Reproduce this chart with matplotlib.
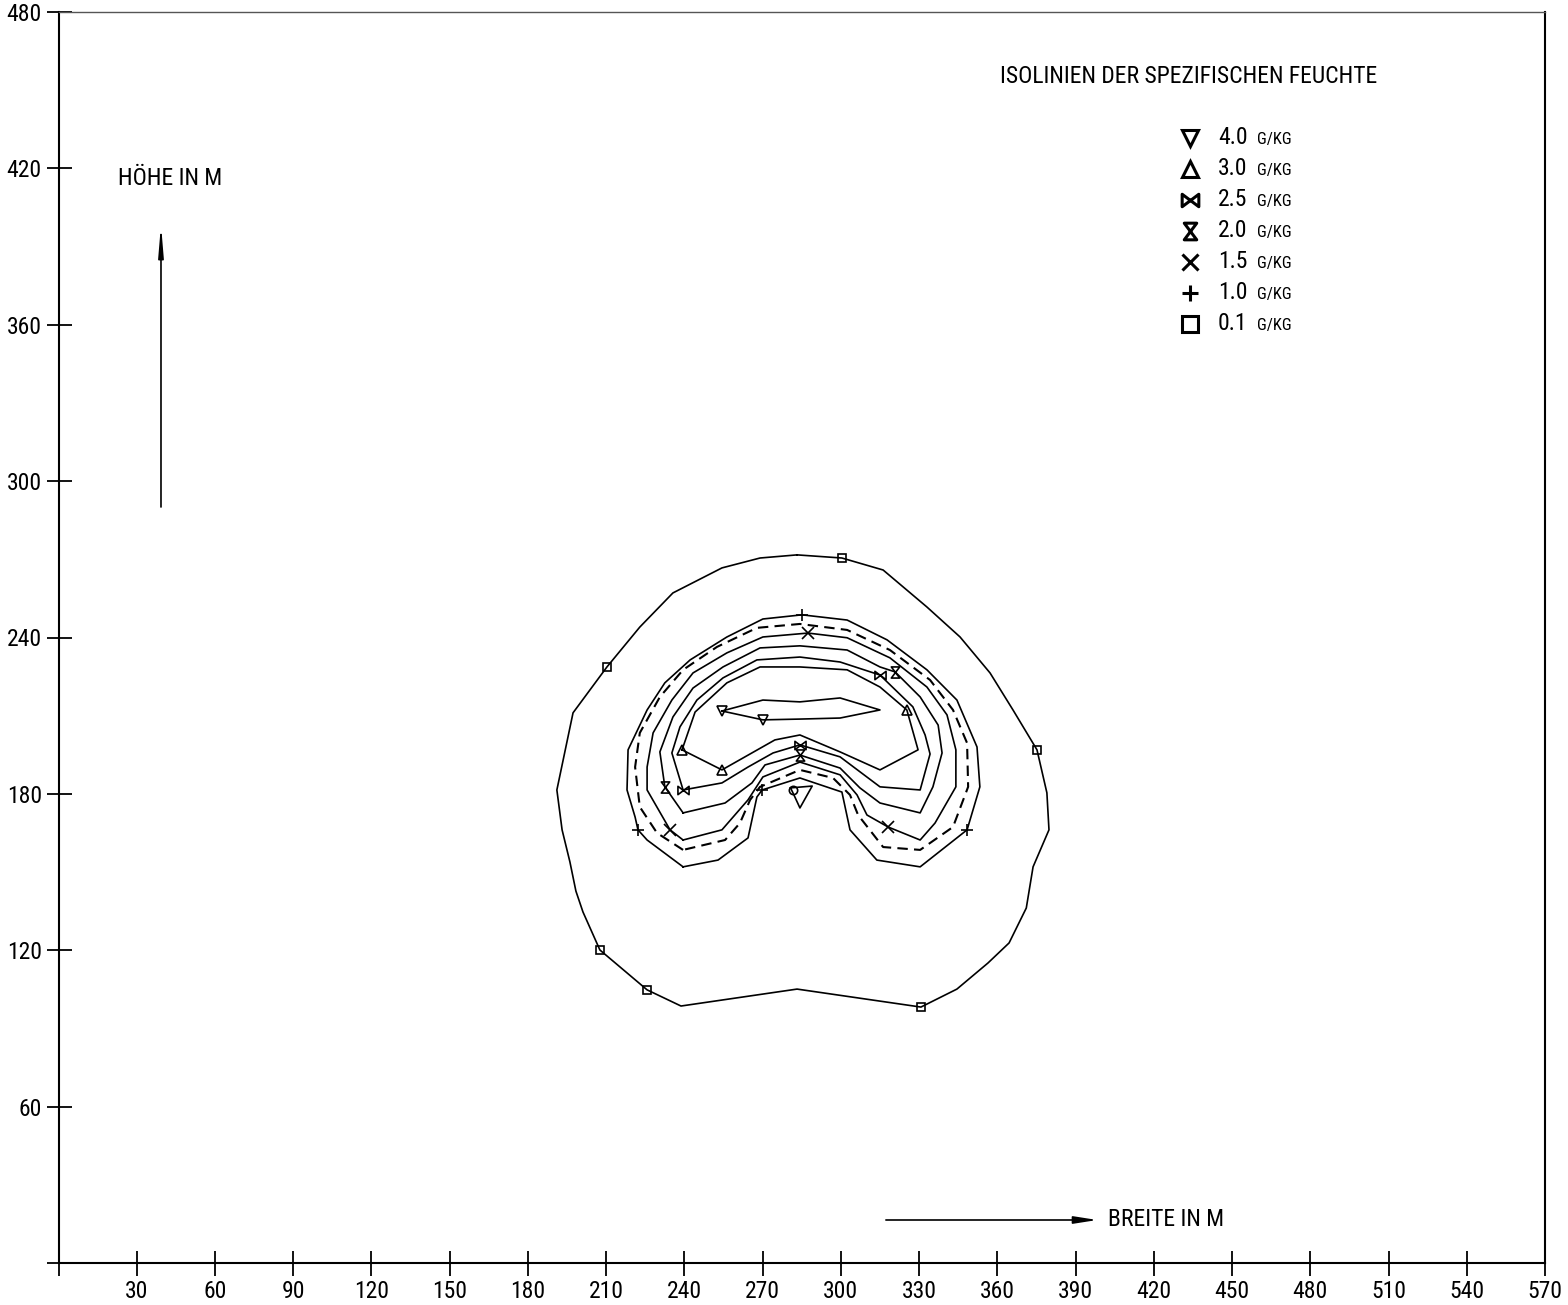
import matplotlib
matplotlib.use("Agg")
import matplotlib.pyplot as plt
from matplotlib.path import Path
from matplotlib import font_manager

# ---------------- data (data units: metres) ----------------
xticks = list(range(30, 571, 30))
yticks = list(range(60, 481, 60))

title = "ISOLINIEN DER SPEZIFISCHEN FEUCHTE"
ylabel_txt = "HÖHE IN M"
xlabel_txt = "BREITE IN M"
levels = ["4.0", "3.0", "2.5", "2.0", "1.5", "1.0", "0.1"]
unit = "G/KG"

# 0.1 g/kg isoline
x01 = [283.2, 300.4, 316.2, 333.0, 345.7, 357.2, 366.0, 375.2, 379.0, 379.8, 373.7, 371.1,
       364.5, 356.4, 344.5, 330.7, 283.2, 238.7, 225.7, 207.6, 201.1, 198.4, 196.1, 193.1,
       191.1, 197.3, 210.3, 222.9, 235.6, 254.4, 269.0]
y01 = [271.7, 270.5, 265.9, 251.7, 240.2, 226.4, 212.2, 196.9, 180.4, 166.2, 152.0, 136.2,
       122.8, 115.1, 105.1, 98.2, 105.1, 98.6, 104.8, 120.1, 134.7, 142.7, 153.9, 166.2,
       181.5, 211.1, 228.7, 244.0, 257.1, 266.7, 270.5]
m01x = [300.4, 375.2, 330.7, 225.7, 207.6, 210.3]
m01y = [270.5, 196.9, 98.2, 104.8, 120.1, 228.7]

# 1.0 g/kg isoline
x10 = [239.5, 225.7, 222.2, 221.1, 218.0, 218.4, 225.7, 232.5, 242.2, 256.3, 270.1, 285.1,
       302.4, 317.7, 333.0, 344.5, 352.2, 353.3, 348.4, 330.4, 313.8, 303.5, 300.4, 284.3,
       269.8, 267.8, 264.4, 252.9]
y10 = [152.0, 162.3, 166.2, 171.1, 181.5, 196.9, 212.2, 222.6, 231.4, 240.2, 247.1, 248.7,
       246.7, 239.1, 227.6, 216.0, 198.0, 182.7, 166.2, 152.0, 154.6, 166.2, 180.7, 186.1,
       181.5, 178.8, 163.1, 154.6]
m10x = [222.2, 285.1, 348.4, 269.8]
m10y = [166.2, 248.7, 166.2, 181.5]

# dashed isoline (between 1.0 and 1.5)
xd = [239.5, 229.5, 222.9, 221.1, 222.9, 230.6, 239.5, 252.5, 267.8, 284.3, 302.4, 318.8,
      334.2, 343.0, 348.4, 348.8, 343.0, 330.4, 316.2, 306.6, 303.5, 297.0, 284.3, 269.0,
      265.2, 261.3, 255.6]
yd = [158.5, 165.0, 175.0, 190.3, 203.4, 217.2, 227.6, 236.4, 243.7, 245.2, 242.9, 235.2,
      223.7, 212.2, 199.5, 182.7, 167.3, 158.5, 159.6, 171.9, 179.6, 186.1, 189.2, 182.7,
      177.7, 168.8, 162.3]

# 1.5 g/kg isoline
x15 = [239.5, 234.5, 225.7, 225.7, 228.0, 235.2, 243.3, 256.3, 270.1, 287.4, 302.4, 318.8,
       333.0, 340.7, 344.1, 344.1, 336.1, 330.4, 318.1, 310.0, 306.2, 299.7, 284.3, 270.1,
       264.4, 254.4]
y15 = [162.3, 166.2, 181.5, 190.3, 203.4, 216.0, 226.4, 234.1, 240.2, 241.7, 239.9, 232.2,
       221.0, 210.3, 196.9, 182.7, 168.8, 162.3, 167.3, 171.9, 179.6, 187.3, 192.2, 186.5,
       177.7, 166.2]
m15x = [234.5, 287.4, 318.1]
m15y = [166.2, 241.7, 167.3]

# 2.0 g/kg isoline
x20 = [239.5, 232.5, 230.6, 235.6, 243.3, 254.8, 269.0, 284.3, 302.4, 315.0, 320.8, 330.4,
       337.3, 338.8, 335.3, 330.4, 315.0, 307.3, 299.7, 284.3, 270.9, 265.9, 255.6]
y20 = [172.7, 182.7, 196.1, 209.5, 220.6, 228.7, 236.0, 236.8, 235.2, 228.7, 226.8, 217.2,
       206.4, 195.7, 182.7, 172.7, 176.5, 182.3, 189.9, 194.9, 191.1, 184.2, 176.5]
m20x = [232.5, 320.8, 284.3]
m20y = [182.7, 226.8, 194.9]

# 2.5 g/kg isoline
x25 = [239.5, 235.2, 238.3, 244.8, 254.8, 267.8, 284.3, 299.7, 315.0, 327.6, 332.3, 334.2,
       330.4, 315.0, 299.7, 284.3, 274.0, 264.4, 254.4]
y25 = [181.5, 195.7, 205.7, 216.0, 224.5, 231.4, 232.5, 230.6, 225.6, 213.4, 202.6, 195.3,
       181.5, 182.7, 194.2, 198.8, 195.7, 190.3, 184.2]
m25x = [239.5, 315.0, 284.3]
m25y = [181.5, 225.6, 198.8]

# 3.0 g/kg isoline
x30 = [239.1, 244.1, 256.3, 269.0, 284.3, 302.4, 315.0, 325.3, 329.6, 315.0, 299.7, 284.3,
       274.7, 254.4]
y30 = [196.9, 211.4, 222.6, 228.7, 228.7, 227.6, 221.0, 212.2, 196.9, 189.2, 196.1, 202.6,
       200.7, 189.2]
m30x = [239.1, 254.4, 325.3]
m30y = [196.9, 189.2, 212.2]

# 4.0 g/kg isoline
x40 = [254.4, 270.1, 284.3, 299.7, 315.0, 299.7, 284.3, 270.1]
y40 = [211.8, 216.0, 215.3, 216.8, 212.2, 209.1, 208.7, 208.4]
m40x = [254.4, 270.1]
m40y = [211.8, 208.4]

# small isolated patch below the arch
xs = [280.7, 289.0, 284.3, 282.0]
ys = [182.3, 183.0, 174.6, 179.6]
msx = [281.5]
msy = [181.5]

# ---------------- font choice (narrow plotter-like lettering) ----------------
_names = {f.name for f in font_manager.fontManager.ttflist}
_fam = "DejaVu Sans"
for cand in ["Liberation Sans Narrow", "Roboto Condensed", "Open Sans Condensed",
             "DejaVu Sans Condensed", "Noto Sans Condensed"]:
    if cand in _names:
        _fam = cand
        break
FONT = dict(family=[_fam, "DejaVu Sans"], fontstretch="condensed")

# ---------------- markers ----------------
C = [Path.MOVETO, Path.LINETO, Path.LINETO, Path.LINETO, Path.CLOSEPOLY]
bowtie = Path([(-1, -0.75), (-1, 0.75), (1, -0.75), (1, 0.75), (-1, -0.75)], C)
hourglass = Path([(-0.75, 1), (0.75, 1), (-0.75, -1), (0.75, -1), (-0.75, 1)], C)
level_markers = ["v", "^", bowtie, hourglass, "x", "+", "s"]

fig = plt.figure(figsize=(15.68, 13.05), dpi=100)
ax = fig.add_axes([58.5 / 1568, 42 / 1305, (1545 - 58.5) / 1568, (1263 - 12) / 1305])
ax.set_xlim(0, 570)
ax.set_ylim(0, 480)

def closed(x, y, lw=1.2, **kw):
    ax.plot(list(x) + [x[0]], list(y) + [y[0]], color="black", lw=lw, **kw)

def marks(x, y, m, ms=8, mew=1.2):
    ax.plot(x, y, ls="none", marker=m, ms=ms, mfc="none", mec="black", mew=mew)

closed(x01, y01)
closed(x10, y10)
closed(xd, yd, lw=1.5, ls=(0, (5, 3)), dash_capstyle="butt")
closed(x15, y15)
closed(x20, y20)
closed(x25, y25)
closed(x30, y30)
closed(x40, y40)
closed(xs, ys)

marks(m01x, m01y, "s", ms=6)
marks(m10x, m10y, "+", ms=9)
marks(m15x, m15y, "x", ms=8)
marks(m20x, m20y, hourglass, ms=8)
marks(m25x, m25y, bowtie, ms=8)
marks(m30x, m30y, "^", ms=7)
marks(m40x, m40y, "v", ms=7)
marks(msx, msy, "o", ms=6)

# ---------------- axes styling ----------------
ax.set_xticks([0] + xticks)
ax.set_xticklabels([""] + [str(v) for v in xticks])
ax.set_yticks([0] + yticks)
ax.set_yticklabels([""] + [str(v) for v in yticks])
ax.tick_params(direction="inout", length=18, width=1.3, labelsize=17, pad=3, colors="black")
for lab in ax.get_xticklabels() + ax.get_yticklabels():
    lab.set_family(FONT["family"])
    lab.set_fontstretch("condensed")
for s in ["left", "bottom", "right"]:
    ax.spines[s].set_linewidth(1.5)
ax.spines["top"].set_linewidth(1.0)
ax.spines["top"].set_color("#555555")

# axis-direction arrows and labels
ax.annotate("", xy=(39.3, 399.5), xytext=(39.3, 289.0),
            arrowprops=dict(arrowstyle="-|>,head_length=1.8,head_width=0.15", color="black", lw=1.2))
ax.text(22.8, 416.3, ylabel_txt, fontsize=17, ha="left", va="center", **FONT)
ax.annotate("", xy=(399.4, 16.5), xytext=(316.2, 16.5),
            arrowprops=dict(arrowstyle="-|>,head_length=1.4,head_width=0.22", color="black", lw=1.2))
ax.text(402.4, 16.5, xlabel_txt, fontsize=17, ha="left", va="center", **FONT)

# title and legend block
ax.text(361.0, 455.1, title, fontsize=17, ha="left", va="center", **FONT)
leg_x_marker, leg_x_text, leg_x_unit = 433.9, 444.6, 459.6
leg_y0, leg_dy = 431.7, 11.9
for i, (lev, mk) in enumerate(zip(levels, level_markers)):
    yy = leg_y0 - i * leg_dy
    ax.plot([leg_x_marker], [yy], ls="none", marker=mk, ms=12, mfc="none", mec="black", mew=2.2)
    ax.text(leg_x_text, yy, lev, fontsize=17, ha="left", va="center", **FONT)
    ax.text(leg_x_unit, yy - 0.6, unit, fontsize=12, ha="left", va="center", **FONT)

fig.savefig("out.png", dpi=100)
